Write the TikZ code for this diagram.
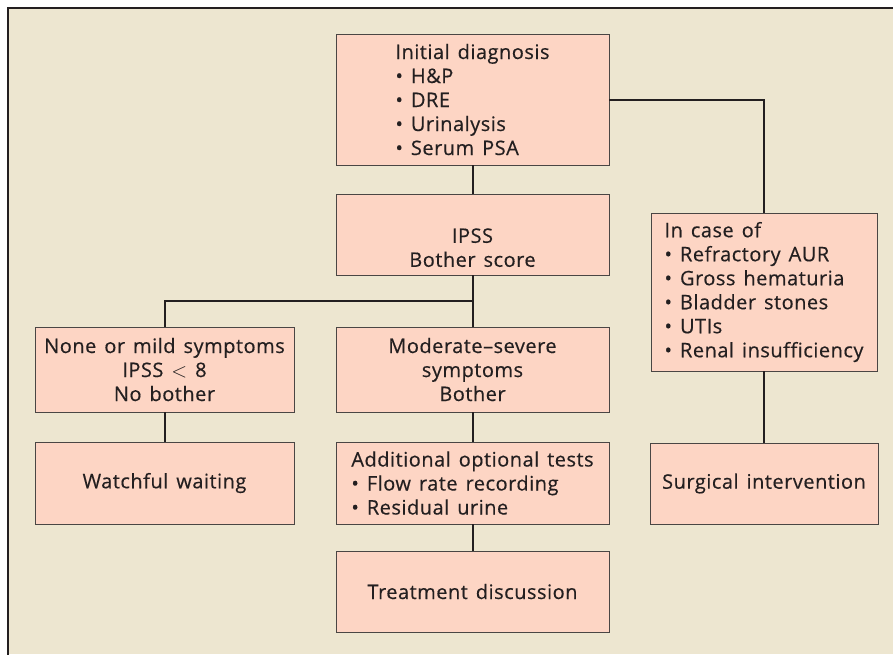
\documentclass[tikz,border=0pt]{standalone}
\usepackage{fontspec}
\setmainfont{Open Sans}[LetterSpace=2.5, FakeBold=0.4, Ligatures=NoCommon, WordSpace=1.4]
\definecolor{bg}{HTML}{EDE6D0}
\definecolor{boxfill}{HTML}{FDD5C4}
\definecolor{boxline}{HTML}{4A4644}
\definecolor{ink}{HTML}{231F20}
\tikzset{
  box/.style={draw=boxline, fill=boxfill, line width=0.9pt, inner sep=0pt, text=ink,
    font=\fontsize{20}{24}\selectfont},
  conn/.style={draw=ink, line width=2pt},
  frame/.style={draw=ink, line width=2pt}
}
\begin{document}
\begin{tikzpicture}[x=1pt,y=-1pt]
\useasboundingbox (0,0) rectangle (893,654);
\fill[white] (0,0) rectangle (893,654);
\fill[bg] (8,8) rectangle (893,654);
\draw[frame] (8,660) -- (8,8) -- (900,8);
% boxes
\node[box, minimum width=273pt, minimum height=131pt, align=left] (init) at (472.5,99.5)
  {Initial diagnosis\\• H\&P\\• DRE\\• Urinalysis\\• Serum PSA};
\node[box, minimum width=273pt, minimum height=81pt, align=center] (ipss) at (472.5,234.5)
  {\strut\\IPSS\\Bother score};
\node[box, minimum width=259pt, minimum height=85pt, align=center] (none) at (164.5,369.5)
  {None or mild symptoms\\IPSS $<$ 8\\No bother};
\node[box, minimum width=273pt, minimum height=85pt, align=center] (mod) at (472.5,369.5)
  {Moderate–severe\\symptoms\\Bother};
\node[box, minimum width=259pt, minimum height=82pt] (watch) at (164.5,483)
  {Watchful waiting};
\node[box, minimum width=273pt, minimum height=82pt, align=left] (add) at (472.5,483)
  {Additional optional tests\\• Flow rate recording\\• Residual urine};
\node[box, minimum width=273pt, minimum height=81pt] (treat) at (472.5,591.5)
  {Treatment discussion};
\node[box, minimum width=226pt, minimum height=158pt, align=left] (incase) at (764,292)
  {In case of\\• Refractory AUR\\• Gross hematuria\\• Bladder stones\\• UTIs\\• Renal insufficiency};
\node[box, minimum width=228pt, minimum height=81pt] (surg) at (764,483.5)
  {Surgical intervention};
% connectors
\draw[conn] (init.south) -- (ipss.north);
\draw[conn] (ipss.south) -- (mod.north);
\draw[conn] (none.north) -- ++(0,-26) -| (ipss.south);
\draw[conn] (none.south) -- (watch.north);
\draw[conn] (mod.south) -- (add.north);
\draw[conn] (add.south) -- (treat.north);
\draw[conn] (init.east) -| (incase.north);
\draw[conn] (incase.south) -- (surg.north);
\end{tikzpicture}
\end{document}
